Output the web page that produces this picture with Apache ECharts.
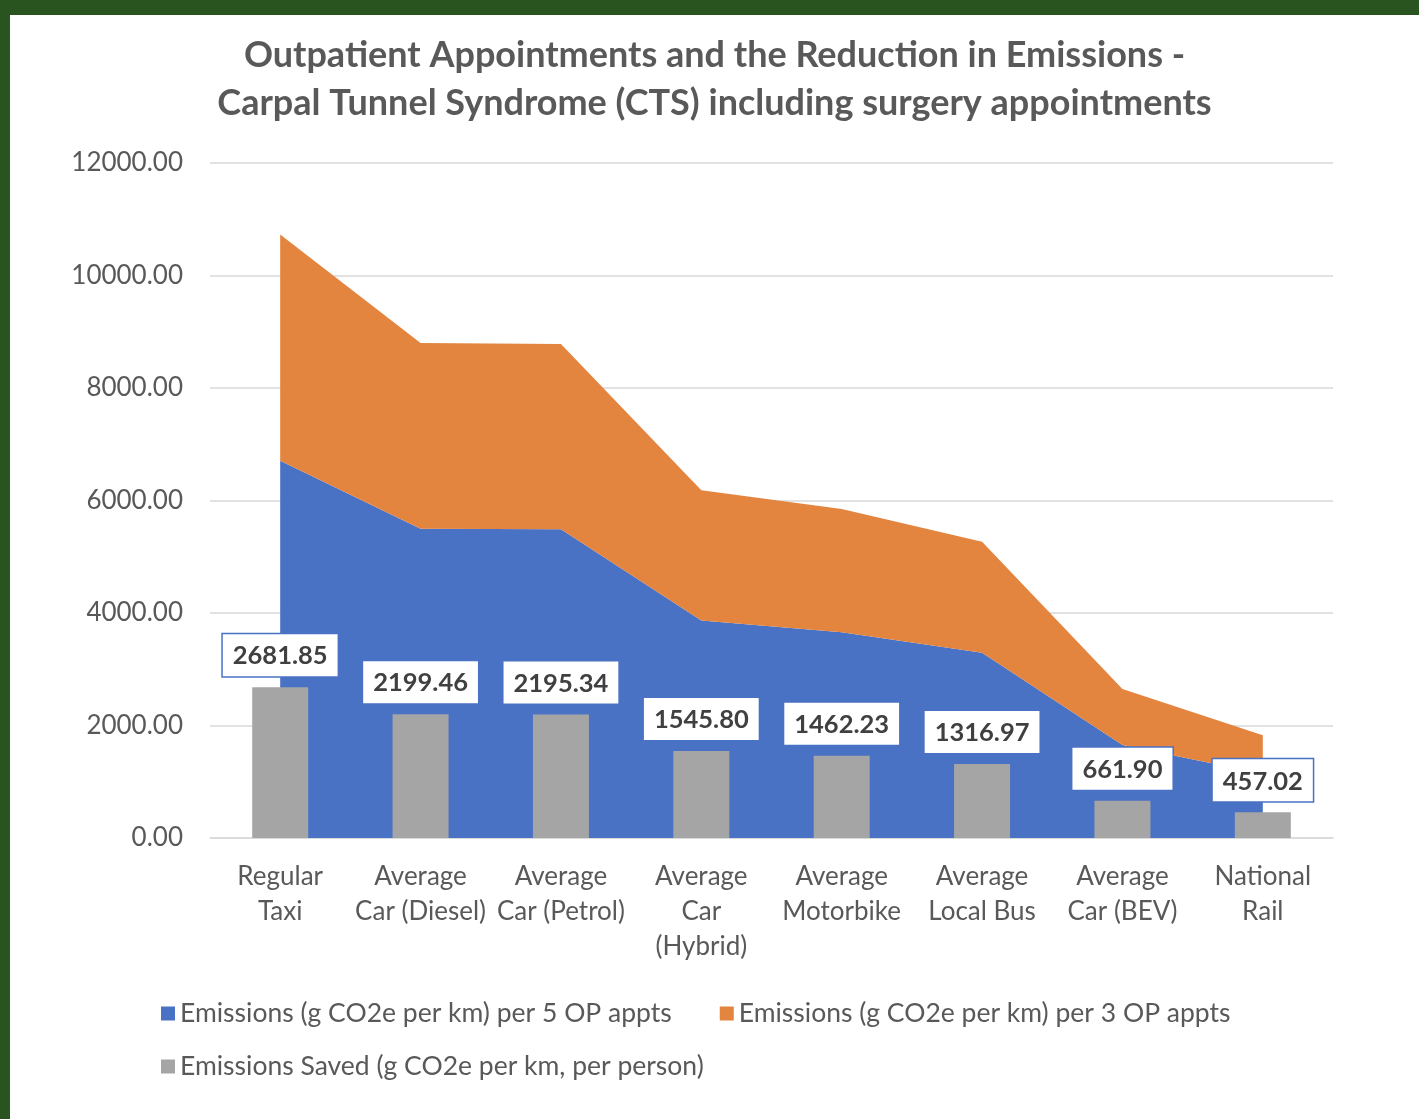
<!DOCTYPE html>
<html>
<head>
<meta charset="utf-8">
<script src="https://cdn.jsdelivr.net/npm/echarts@6/dist/echarts.min.js"></script>
<style>
  html, body { margin: 0; padding: 0; background: #29541f; }
  #wrap { position: absolute; left: 10px; top: 15px; right: 0; bottom: 0; background: #fff; }
  #chart { width: 1409px; height: 1104px; }
</style>
</head>
<body>
<div id="wrap"><div id="chart"></div></div>
<script>
var categories = ['Regular\nTaxi', 'Average\nCar (Diesel)', 'Average\nCar (Petrol)', 'Average\nCar\n(Hybrid)',
    'Average\nMotorbike', 'Average\nLocal Bus', 'Average\nCar (BEV)', 'National\nRail'];
var per5 = [6704.63, 5498.65, 5488.35, 3864.50, 3655.58, 3292.43, 1654.75, 1142.55];
var per3 = [4022.78, 3299.19, 3293.01, 2318.70, 2193.35, 1975.46, 992.85, 685.53];
var saved = [2681.85, 2199.46, 2195.34, 1545.80, 1462.23, 1316.97, 661.90, 457.02];

var font = 'Lato';
var chart = echarts.init(document.getElementById('chart'));
// the chart div sits at (10,15) on the page, inside the green frame
chart.setOption({
    animation: false,
    title: {
        text: 'Outpatient Appointments and the Reduction in Emissions -\nCarpal Tunnel Syndrome (CTS) including surgery appointments',
        left: 'center',
        top: 11,
        textStyle: { fontFamily: font, fontSize: 36, fontWeight: 'bold', color: '#595959', lineHeight: 48 }
    },
    legend: [{
        data: ['Emissions (g CO2e per km) per 5 OP appts', 'Emissions (g CO2e per km) per 3 OP appts'],
        left: 146, top: 980, itemWidth: 14, itemHeight: 14, itemGap: 48,
        icon: 'rect',
        textStyle: { fontFamily: font, fontSize: 26.5, color: '#595959' }
    }, {
        data: ['Emissions Saved (g CO2e per km, per person)'],
        left: 146, top: 1033, itemWidth: 14, itemHeight: 14,
        icon: 'rect',
        textStyle: { fontFamily: font, fontSize: 26.5, color: '#595959' }
    }],
    grid: { left: 200, right: 86, top: 148, bottom: 281 },
    xAxis: {
        type: 'category',
        data: categories,
        axisLine: { lineStyle: { color: '#d9d9d9', width: 1.5 } },
        axisTick: { show: false },
        axisLabel: { fontFamily: font, fontSize: 26, color: '#595959', lineHeight: 35, margin: 21, interval: 0 }
    },
    yAxis: {
        type: 'value',
        min: 0, max: 12000, interval: 2000,
        axisLabel: { fontFamily: font, fontSize: 26, color: '#595959', margin: 27,
            formatter: function (v) { return v.toFixed(2); } },
        splitLine: { lineStyle: { color: '#d9d9d9', width: 1.5 } }
    },
    series: [{
        name: 'Emissions (g CO2e per km) per 5 OP appts',
        type: 'line', stack: 'em', data: per5,
        symbol: 'none', lineStyle: { width: 0 },
        itemStyle: { color: '#4a72c4' },
        areaStyle: { color: '#4a72c4', opacity: 1 }
    }, {
        name: 'Emissions (g CO2e per km) per 3 OP appts',
        type: 'line', stack: 'em', data: per3,
        symbol: 'none', lineStyle: { width: 0 },
        itemStyle: { color: '#e3843f' },
        areaStyle: { color: '#e3843f', opacity: 1 }
    }, {
        name: 'Emissions Saved (g CO2e per km, per person)',
        type: 'bar', data: saved, barWidth: 56, z: 5,
        itemStyle: { color: '#a5a5a5' },
        label: {
            show: true, position: 'top', distance: 11,
            formatter: function (p) { return p.value.toFixed(2); },
            fontFamily: font, fontSize: 25.5, fontWeight: 'bold', color: '#404040',
            backgroundColor: '#fff', borderColor: '#4a72c4', borderWidth: 1.5,
            padding: [9, 10, 7, 10]
        }
    }]
});
</script>
</body>
</html>
